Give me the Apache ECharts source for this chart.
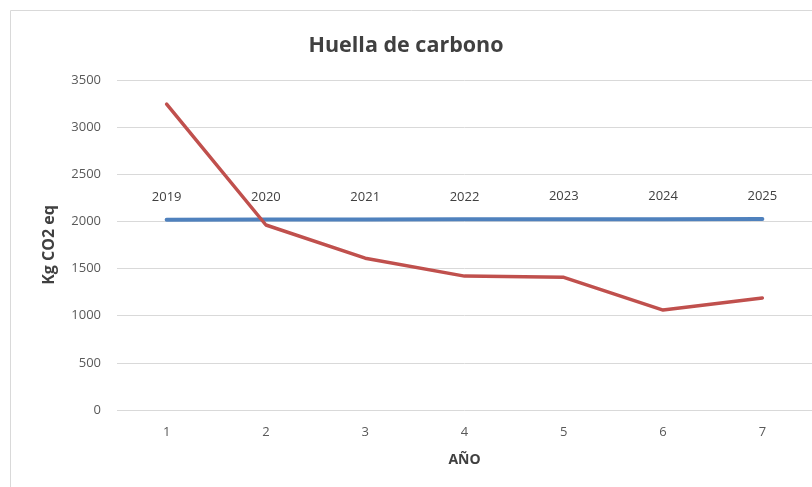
<!DOCTYPE html>
<html>
<head>
<meta charset="utf-8">
<script src="https://cdn.jsdelivr.net/npm/echarts@6/dist/echarts.min.js"></script>
<style>
  html, body { margin: 0; padding: 0; background: #fff; }
  #chart { width: 812px; height: 487px; }
</style>
</head>
<body>
<div id="chart"></div>
<script>
  // datos
  const categories = ['1', '2', '3', '4', '5', '6', '7']
  const years = [2019, 2020, 2021, 2022, 2023, 2024, 2025]
  const huella = [3245, 1962, 1610, 1420, 1407, 1060, 1188]

  const chart = echarts.init(document.getElementById('chart'))
  const font = "'Open Sans', 'Noto Sans', sans-serif"

  const option = {
    animation: false,
    textStyle: { fontFamily: font },
    graphic: [
      {
        type: 'rect',
        shape: { x: 10.5, y: 10.5, width: 900, height: 600 },
        style: { fill: 'none', stroke: '#d9d9d9', lineWidth: 1 },
        silent: true
      }
    ],
    title: {
      text: 'Huella de carbono',
      left: 'center',
      top: 30,
      textStyle: { fontSize: 21.5, fontWeight: 'bold', color: '#404040', fontFamily: font }
    },
    grid: { left: 117, right: 0, top: 80, bottom: 77 },
    xAxis: {
      type: 'category',
      data: categories,
      boundaryGap: true,
      name: 'AÑO',
      nameLocation: 'middle',
      nameGap: 43,
      nameTextStyle: { fontSize: 14, fontWeight: 'bold', color: '#404040' },
      axisLine: { show: false },
      axisTick: { show: false },
      axisLabel: { fontSize: 13, color: '#595959', margin: 16 }
    },
    yAxis: {
      type: 'value',
      min: 0,
      max: 3500,
      interval: 500,
      name: 'Kg CO2 eq',
      nameLocation: 'middle',
      nameGap: 60,
      nameTextStyle: { fontSize: 16, fontWeight: 'bold', color: '#404040' },
      axisLine: { show: false },
      axisTick: { show: false },
      axisLabel: { fontSize: 13, color: '#595959', margin: 16, formatter: v => String(v) },
      splitLine: { lineStyle: { color: '#d9d9d9', width: 1 } }
    },
    series: [
      {
        name: 'Año',
        type: 'line',
        data: years,
        symbol: 'circle',
        symbolSize: 0,
        lineStyle: { color: '#4f81bd', width: 4, cap: 'round' },
        itemStyle: { color: '#4f81bd' },
        label: {
          show: true,
          position: 'top',
          distance: 16,
          fontSize: 13,
          color: '#404040',
          formatter: p => String(p.value)
        }
      },
      {
        name: 'Huella',
        type: 'line',
        data: huella,
        symbol: 'none',
        lineStyle: { color: '#c0504d', width: 3.5, cap: 'round', join: 'round' },
        itemStyle: { color: '#c0504d' }
      }
    ]
  }

  chart.setOption(option)
</script>
</body>
</html>
